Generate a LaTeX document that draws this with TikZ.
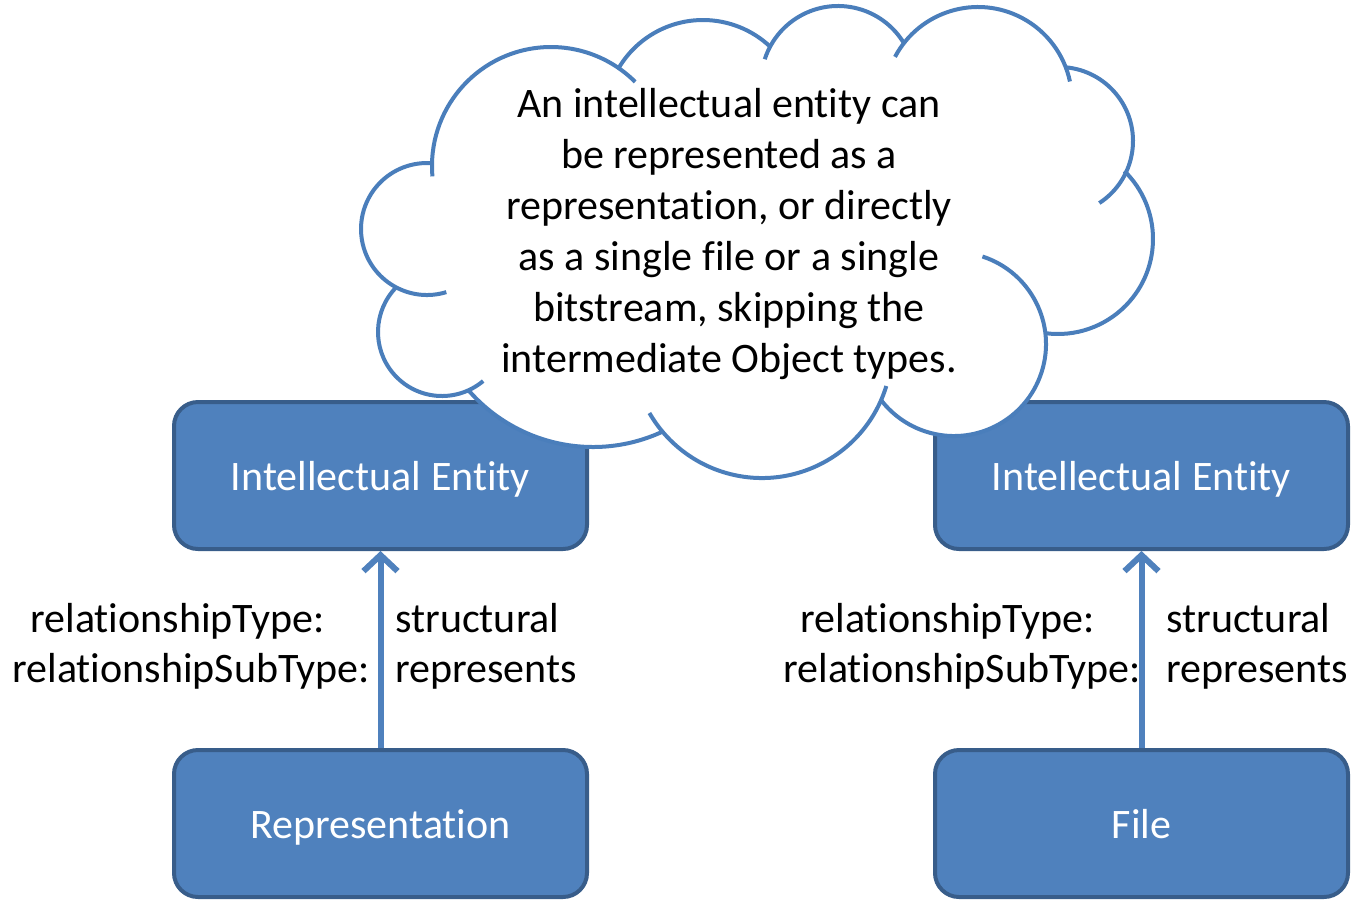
\documentclass[tikz,border=0pt]{standalone}
\usepackage{fontspec}
\setmainfont{Carlito}[Ligatures={NoCommon,NoContextual,NoRare}]
\usepackage{tikz}
\usetikzlibrary{arrows.meta}

\definecolor{boxfill}{HTML}{4F81BD}
\definecolor{boxedge}{HTML}{385D8A}
\definecolor{cloudedge}{HTML}{4A7EBB}

% bumps of the cloud: centre x / centre y / radius / from / to
\newcommand\cloudbumps{551/166/119/185/45, 703/118/98/149.4/46.7, 838/83/77/162/31.2,
  978/101/94/152/12, 1059/141/74/84.7/-57, 1058/239/95/45.7/-97.6,
  954/344/92/72/-142.4, 762/348/130/343/210, 593/282/165/294.9/221,
  442/332/64/310/135.8, 427/229/66/287/85.6}

\begin{document}
\begin{tikzpicture}[x=0.5pt,y=-0.5pt,
	box/.style={rectangle,rounded corners=12pt,draw=boxedge,fill=boxfill,line width=2pt,
		minimum width=206.5pt,minimum height=73.5pt,text height=15pt,text depth=0pt,
		text=white,font=\fontsize{21}{25.5}\selectfont},
	lbl/.style={anchor=base west,inner sep=0pt,font=\fontsize{21}{25.5}\selectfont},
	relarrow/.style={draw=boxfill,line width=3pt,-{Straight Barb[length=8pt,width=17pt]}},
	cloudline/.style={draw=cloudedge,line width=2pt}]
	\useasboundingbox (0,0) rectangle (1356,901);

	\node[box](ieL) at (380.5,475.5) {Intellectual Entity};
	\node[box](ieR) at (1141.5,475.5) {Intellectual Entity};
	\node[box](rep) at (380.5,823.5) {Representation};
	\node[box](file) at (1141.5,823.5) {File};

	\draw[relarrow] (rep) -- (ieL);
	\draw[relarrow] (file) -- (ieR);

	\node[lbl](typeL) at (30,632) {relationshipType:};
	\node[lbl](subtypeL) at (12,682) {relationshipSubType:};
	\node[lbl](structL) at (395,632) {structural};
	\node[lbl](reprL) at (395,682) {represents};
	\node[lbl](typeR) at (800,632) {relationshipType:};
	\node[lbl](subtypeR) at (783,682) {relationshipSubType:};
	\node[lbl](structR) at (1166,632) {structural};
	\node[lbl](reprR) at (1166,682) {represents};

	% the cloud
	\fill[white] (551,166) -- (703,118) -- (838,83) -- (978,101) -- (1059,141) -- (1058,239)
		-- (954,344) -- (762,348) -- (593,282) -- (442,332) -- (427,229) -- cycle;
	\foreach \cx/\cy/\r/\sa/\ea in \cloudbumps
		\fill[white] (\cx,\cy) circle[radius=\r];
	\foreach \cx/\cy/\r/\sa/\ea in \cloudbumps
		\draw[cloudline] ([shift={(-\sa:\r)}]\cx,\cy) arc[start angle=-\sa,end angle=-\ea,radius=\r];

	\node[align=center,inner sep=0pt,font=\fontsize{21}{25.5}\selectfont](note) at (729,234)
		{An intellectual entity can\\be represented as a\\representation, or directly\\
		as a single file or a single\\bitstream, skipping the\\intermediate Object types.};
\end{tikzpicture}
\end{document}
